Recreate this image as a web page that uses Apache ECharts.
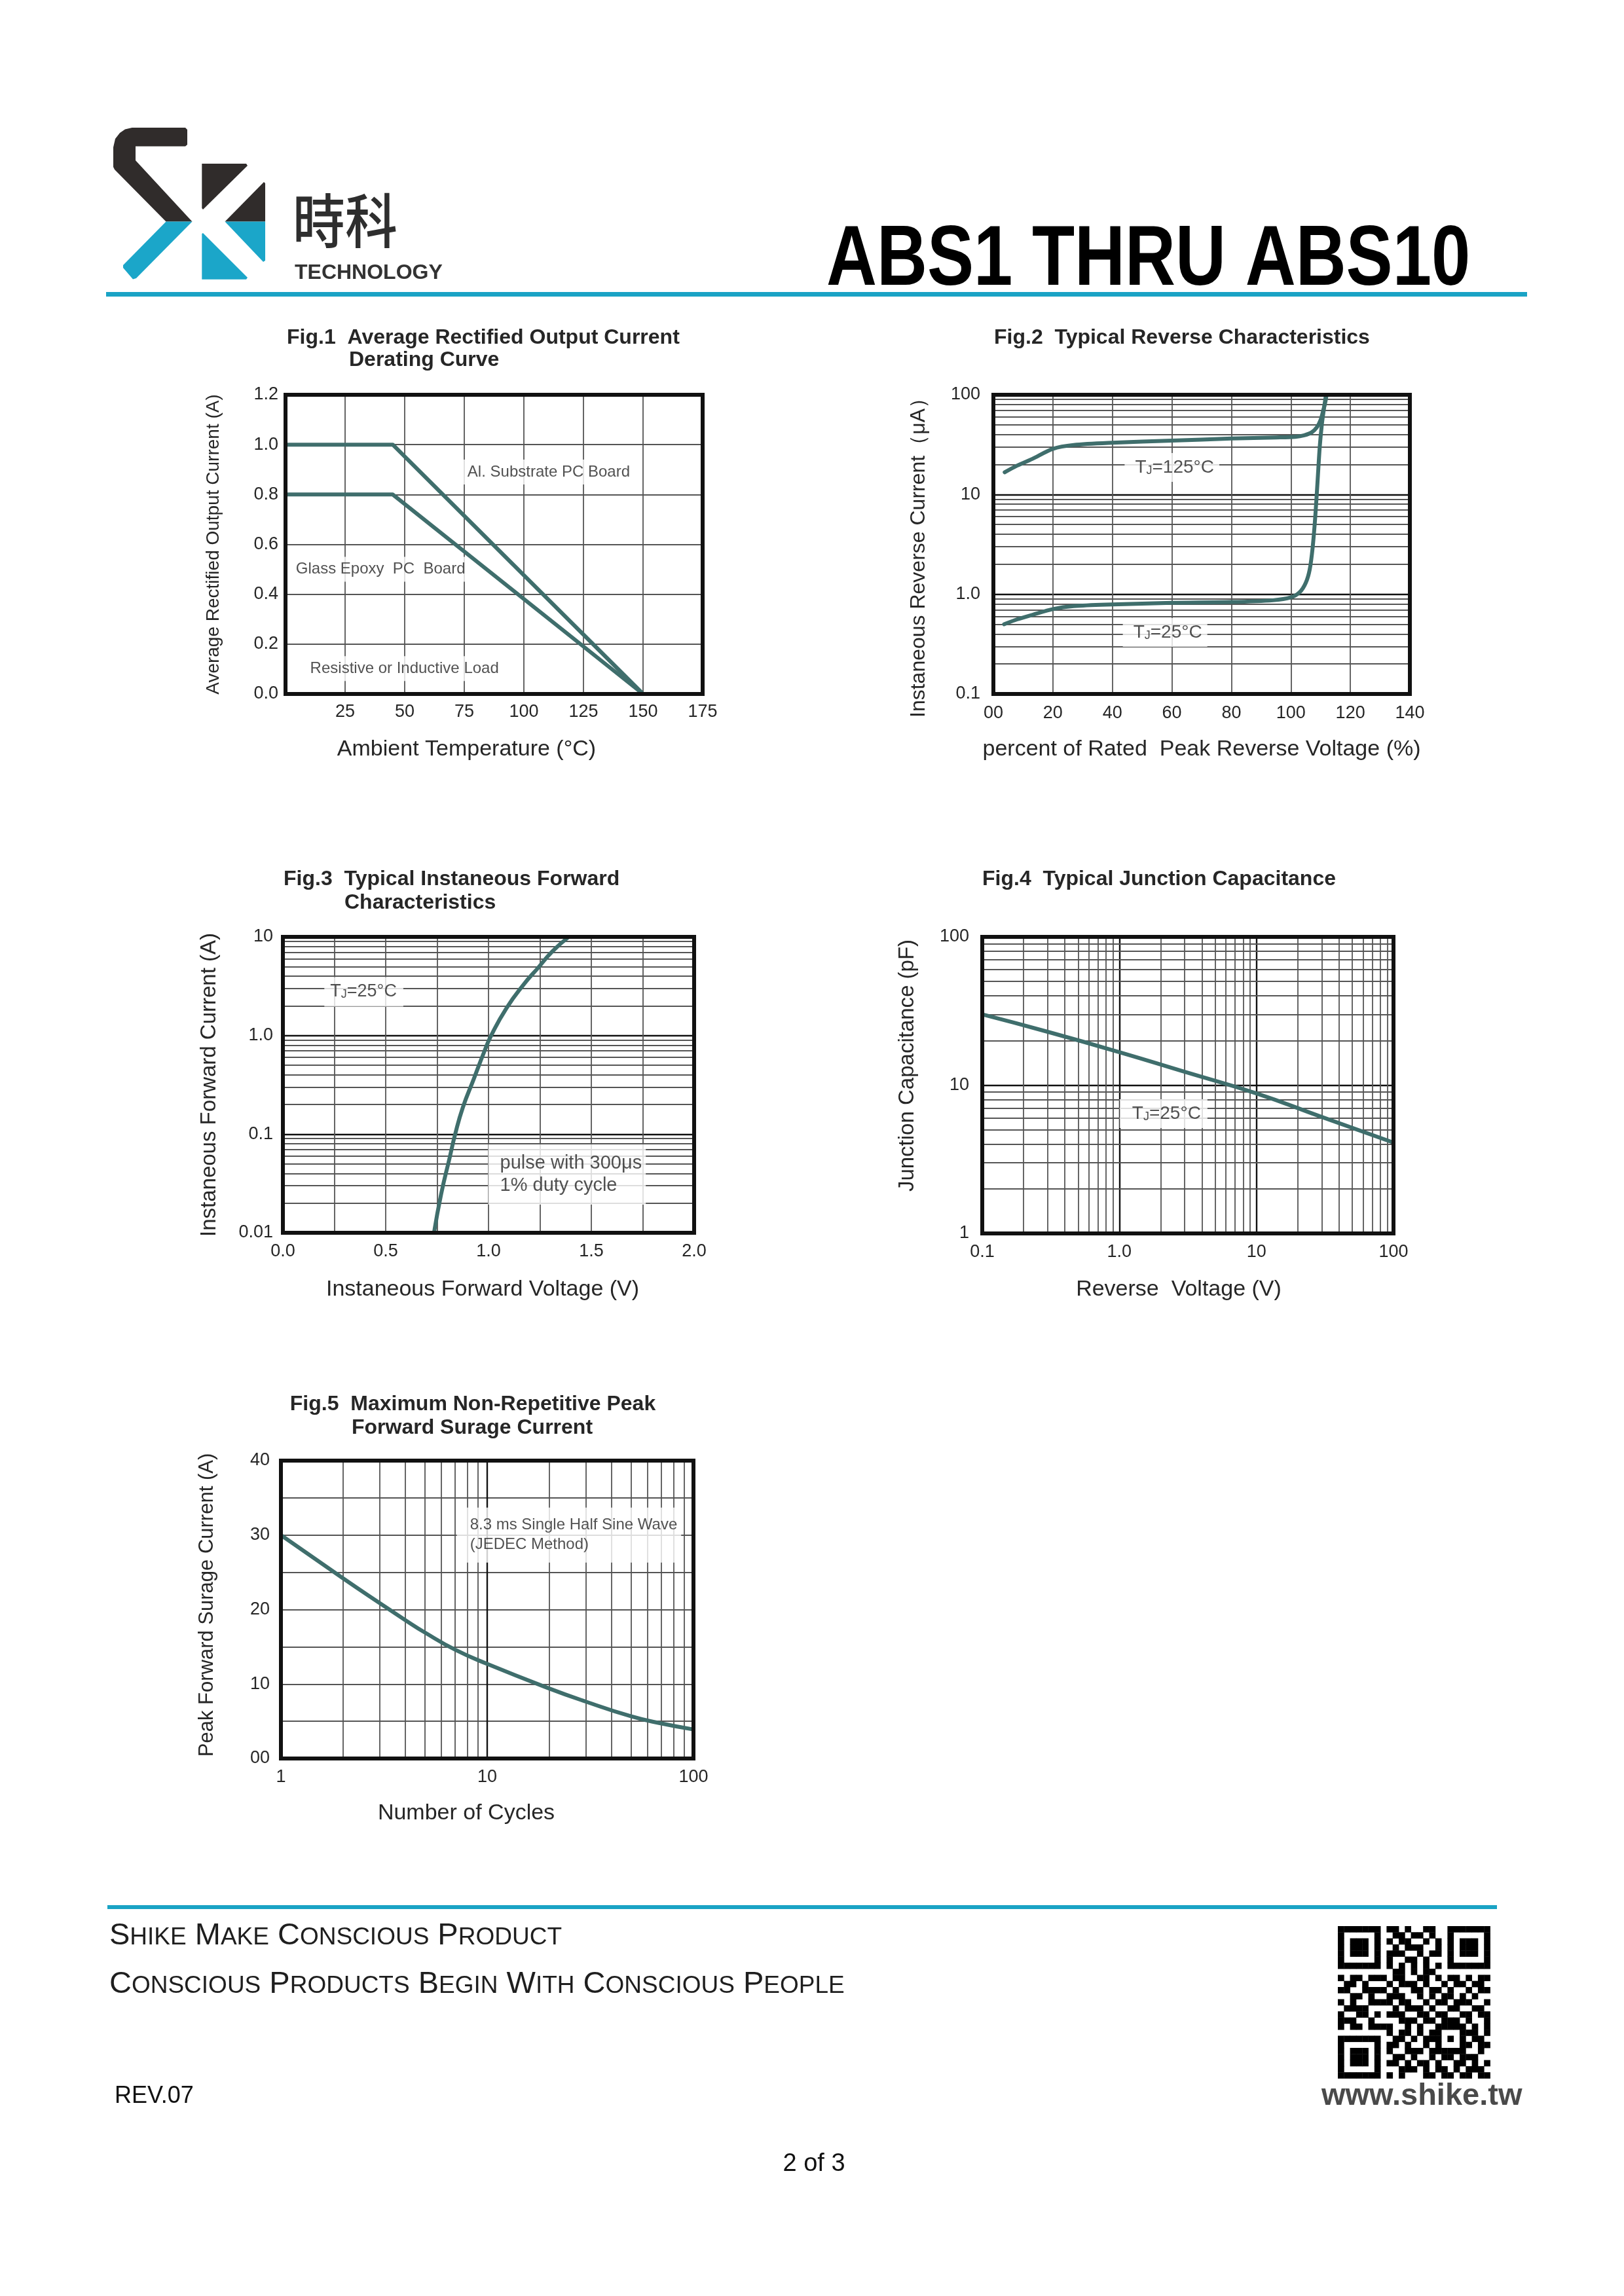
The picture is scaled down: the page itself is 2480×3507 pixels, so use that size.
<!DOCTYPE html>
<html><head><meta charset="utf-8">
<script src="https://cdn.jsdelivr.net/npm/echarts@6/dist/echarts.min.js"></script>
<style>html,body{margin:0;padding:0;background:#fff}#c{width:2480px;height:3507px}</style>
</head><body><div id="c"></div>
<script>
// ================= DATA =================
// Fig.1 derating curve
const fig1Temp = [0, 45, 150];
const fig1AlSubstrate = [1.0, 1.0, 0.0];
const fig1GlassEpoxy = [0.8, 0.8, 0.0];
const fig1XLabels = ['25', '50', '75', '100', '125', '150', '175'];
const fig1YLabels = ['0.0', '0.2', '0.4', '0.6', '0.8', '1.0', '1.2'];
const fig1NoteText = ['Al. Substrate PC Board', 'Glass Epoxy  PC  Board', 'Resistive or Inductive Load'];
const fig1NoteX = [74, 2, 8];
const fig1NoteY = [0.89, 0.50, 0.102];

// Fig.2 reverse characteristics
const fig2Pct125 = [3.8, 8, 13, 20, 27, 40, 60, 80, 95, 101.5, 104.5, 107, 108.8, 110, 110.9, 111.6, 112];
const fig2Cur125 = [16.7, 19.5, 22.7, 28.7, 31.4, 33.1, 34.7, 36.4, 37.3, 37.9, 39.3, 42, 47.5, 56, 70, 85, 100];
const fig2Pct25 = [3.6, 8, 13, 20, 27, 40, 60, 80, 94, 100, 103, 105, 106.3, 107.3, 108.2, 109, 109.7, 110.4, 111.1, 111.8];
const fig2Cur25 = [0.5, 0.56, 0.62, 0.71, 0.76, 0.79, 0.82, 0.835, 0.87, 0.93, 1.05, 1.3, 1.75, 2.9, 6, 14, 30, 50, 72, 100];
const fig2XLabels = ['00', '20', '40', '60', '80', '100', '120', '140'];
const fig2YLabels = ['0.1', '1.0', '10', '100'];
const fig2NoteText = ['T{s|J}=125°C', 'T{s|J}=25°C'];
const fig2NoteX = [44, 43.4];
const fig2NoteY = [18.7, 0.414];

// Fig.3 forward characteristics
const fig3Volt = [0.735, 0.769, 0.811, 0.838, 0.875, 0.928, 0.981, 1.013, 1.087, 1.172, 1.241, 1.31, 1.39];
const fig3Amp = [0.01, 0.0243, 0.0577, 0.1, 0.186, 0.361, 0.70, 1.0, 1.89, 3.31, 4.85, 7.1, 10];
const fig3XLabels = {0: '0.0', 0.5: '0.5', 1: '1.0', 1.5: '1.5', 2: '2.0'};
const fig3YLabels = ['0.01', '0.1', '1.0', '10'];
const fig3NoteText = ['T{s|J}=25°C', 'pulse with 300μs\n1% duty cycle'];
const fig3NoteX = [0.2, 0.997];
const fig3NoteY = [2.77, 0.039];

// Fig.4 junction capacitance
const fig4Volt = [0.1, 0.3, 1, 3, 10, 30, 100];
const fig4Cap = [30, 22.9, 16.7, 12.3, 8.8, 6.1, 4.1];
const fig4XLabels = ['0.1', '1.0', '10', '100'];
const fig4YLabels = ['1', '10', '100'];
const fig4NoteText = ['T{s|J}=25°C'];
const fig4NoteX = [1.0];
const fig4NoteY = [6.43];

// Fig.5 surge current
const fig5Cycles = [1, 2, 3, 4, 5, 7, 10, 20, 30, 50, 70, 100];
const fig5Amp = [30, 24.2, 20.9, 18.6, 16.9, 14.6, 12.7, 9.4, 7.65, 5.65, 4.7, 3.9];
const fig5XLabels = ['1', '10', '100'];
const fig5YLabels = {0: '00', 10: '10', 20: '20', 30: '30', 40: '40'};
const fig5NoteText = ['8.3 ms Single Half Sine Wave\n(JEDEC Method)'];
const fig5NoteX = [7.1];
const fig5NoteY = [30.0];

const logMinorSteps = [2, 3, 4, 5, 6, 7, 8, 9];

// ================= STYLE =================
const FONT = "'Liberation Sans', Arial, Helvetica, sans-serif";
const CJK = "'Noto Sans CJK TC', 'Noto Sans CJK SC', sans-serif";
const TXT = '#262626';
const CURVE = '#3f6e6c';
const MINOR = '#555555';
const MAJOR = '#111111';
const GW = 1.8;
const CYAN = '#1ba6c9';
const DARK = '#302c2b';

const grids = [
  {left: 436, top: 603, width: 637, height: 457},
  {left: 1517, top: 603, width: 636, height: 457},
  {left: 432, top: 1431, width: 628, height: 452},
  {left: 1500, top: 1431, width: 628, height: 453},
  {left: 429, top: 2231, width: 630, height: 455}
];

function pair(xs, ys) { return xs.map((x, i) => [x, ys[i]]); }
function decIdx(v) { return Math.round(Math.log10(v)); }
function minorValues(decades) {
  const out = [];
  decades.forEach(d => logMinorSteps.forEach(m => out.push(m * d)));
  return out;
}

function mkAxis(gi, c) {
  const a = {
    gridIndex: gi, type: c.type, min: c.min, max: c.max,
    name: c.name, nameLocation: 'middle', nameGap: c.nameGap,
    nameTextStyle: {color: TXT, fontFamily: FONT, fontSize: c.nameSize, padding: c.namePad || 0},
    axisLine: {show: false}, axisTick: {show: false},
    axisLabel: {color: TXT, fontFamily: FONT, fontSize: 27, margin: c.margin, formatter: c.fmt,
      showMinLabel: true, showMaxLabel: true},
    splitLine: {show: true, lineStyle: {color: c.splitColor || MINOR, width: c.splitWidth || GW}},
    minorTick: {show: false}, minorSplitLine: {show: false}
  };
  if (c.interval !== undefined) a.interval = c.interval;
  if (c.type === 'log') a.logBase = 10;
  return a;
}

function minorSeries(gi, xVals, yVals) {
  const data = [];
  xVals.forEach(v => data.push({xAxis: v}));
  yVals.forEach(v => data.push({yAxis: v}));
  return {
    type: 'line', xAxisIndex: gi, yAxisIndex: gi, data: [], silent: true, z: 1,
    markLine: {silent: true, z: 1, symbol: ['none', 'none'], animation: false, label: {show: false},
      lineStyle: {color: MINOR, width: GW, type: 'solid'}, emphasis: {disabled: true}, data}
  };
}

function curve(gi, data, smooth) {
  return {
    type: 'line', xAxisIndex: gi, yAxisIndex: gi, data, symbol: 'none', showSymbol: false,
    smooth: smooth || false, silent: true, z: 5,
    lineStyle: {color: CURVE, width: 6, cap: 'round', join: 'round'}
  };
}

function notes(gi, texts, xs, ys, fontSize, padding, lineHeight) {
  const label = {
    show: true, position: 'right', distance: 0, formatter: p => p.name,
    color: TXT, fontFamily: FONT, fontSize, backgroundColor: '#ffffff', padding, align: 'left',
    rich: {s: {fontSize: Math.round(fontSize * 0.66), fontFamily: FONT, color: TXT, verticalAlign: 'bottom'}}
  };
  if (lineHeight) label.lineHeight = lineHeight;
  return {
    type: 'scatter', xAxisIndex: gi, yAxisIndex: gi, z: 3, silent: true,
    symbol: 'rect', symbolSize: 1, itemStyle: {color: 'rgba(0,0,0,0)'}, label,
    data: texts.map((t, i) => ({name: t, value: [xs[i], ys[i]]}))
  };
}

// ================= AXES =================
const XN = 34;
const xAxes = [
  mkAxis(0, {type: 'value', min: 0, max: 175, interval: 25, name: 'Ambient Temperature (°C)', nameGap: 68, nameSize: XN,
    namePad: [0, 84, 0, 0], margin: 14, fmt: v => (fig1XLabels.indexOf(String(v)) >= 0 ? String(v) : '')}),
  mkAxis(1, {type: 'value', min: 0, max: 140, interval: 20, name: 'percent of Rated  Peak Reverse Voltage (%)', nameGap: 68,
    nameSize: XN, margin: 16, fmt: v => fig2XLabels[Math.round(v / 20)]}),
  mkAxis(2, {type: 'value', min: 0, max: 2, interval: 0.25, name: 'Instaneous Forward Voltage (V)', nameGap: 70, nameSize: XN,
    namePad: [0, 18, 0, 0], margin: 15, fmt: v => (fig3XLabels[v] !== undefined ? fig3XLabels[v] : '')}),
  mkAxis(3, {type: 'log', min: 0.1, max: 100, name: 'Reverse  Voltage (V)', nameGap: 69, nameSize: XN,
    namePad: [0, 28, 0, 0], margin: 15, splitColor: MAJOR, splitWidth: 2.4, fmt: v => fig4XLabels[decIdx(v) + 1]}),
  mkAxis(4, {type: 'log', min: 1, max: 100, name: 'Number of Cycles', nameGap: 67, nameSize: XN,
    namePad: [0, 64, 0, 0], margin: 15, splitColor: MAJOR, splitWidth: 2.4, fmt: v => fig5XLabels[decIdx(v)]})
];
const yAxes = [
  mkAxis(0, {type: 'value', min: 0, max: 1.2, interval: 0.2, name: 'Average Rectified Output Current (A)', nameGap: 96,
    nameSize: 28, margin: 11, fmt: v => fig1YLabels[Math.round(v / 0.2)]}),
  mkAxis(1, {type: 'log', min: 0.1, max: 100, name: 'Instaneous Reverse Current（μA）', nameGap: 98, nameSize: 32,
    namePad: [0, 25, 0, 0], margin: 20, splitColor: MAJOR, splitWidth: 2.4, fmt: v => fig2YLabels[decIdx(v) + 1]}),
  mkAxis(2, {type: 'log', min: 0.01, max: 10, name: 'Instaneous Forward Current (A)', nameGap: 96, nameSize: 33,
    margin: 15, splitColor: MAJOR, splitWidth: 2.4, fmt: v => fig3YLabels[decIdx(v) + 2]}),
  mkAxis(3, {type: 'log', min: 1, max: 100, name: 'Junction Capacitance (pF)', nameGap: 98, nameSize: 33,
    namePad: [0, 0, 0, 60], margin: 20, splitColor: MAJOR, splitWidth: 2.4, fmt: v => fig4YLabels[decIdx(v)]}),
  mkAxis(4, {type: 'value', min: 0, max: 40, interval: 5, name: 'Peak Forward Surage Current (A)', nameGap: 97, nameSize: 31,
    namePad: [0, 0, 0, 14], margin: 17, fmt: v => (fig5YLabels[v] !== undefined ? fig5YLabels[v] : '')})
];

// ================= SERIES =================
const series = [
  minorSeries(1, [], minorValues([0.1, 1, 10])),
  minorSeries(2, [], minorValues([0.01, 0.1, 1])),
  minorSeries(3, minorValues([0.1, 1, 10]), minorValues([1, 10])),
  minorSeries(4, minorValues([1, 10]), []),
  notes(0, fig1NoteText, fig1NoteX, fig1NoteY, 24, [7, 8]),
  notes(1, fig2NoteText, fig2NoteX, fig2NoteY, 28, [8, 8, 8, 16]),
  notes(2, fig3NoteText.slice(0, 1), fig3NoteX.slice(0, 1), fig3NoteY.slice(0, 1), 27, [9, 10, 9, 9]),
  notes(2, fig3NoteText.slice(1), fig3NoteX.slice(1), fig3NoteY.slice(1), 29, [12, 6, 12, 18], 34),
  notes(3, fig4NoteText, fig4NoteX, fig4NoteY, 28, [8, 10, 8, 19]),
  notes(4, fig5NoteText, fig5NoteX, fig5NoteY, 24, [12, 6, 12, 20], 30),
  curve(0, pair(fig1Temp, fig1AlSubstrate)),
  curve(0, pair(fig1Temp, fig1GlassEpoxy)),
  curve(1, pair(fig2Pct125, fig2Cur125), 0.3),
  curve(1, pair(fig2Pct25, fig2Cur25), 0.3),
  curve(2, pair(fig3Volt, fig3Amp), 0.5),
  curve(3, pair(fig4Volt, fig4Cap), 0.5),
  curve(4, pair(fig5Cycles, fig5Amp), 0.5)
];

// ================= GRAPHIC (page furniture) =================
const graphic = [];
function txt(text, x, y, size, opts) {
  opts = opts || {};
  const el = {
    type: 'text', x, y, z: 50, silent: true,
    style: {text, x: 0, y: 0, fill: opts.color || TXT, fontSize: size, fontFamily: opts.family || FONT,
      fontWeight: opts.weight || 'normal', align: opts.align || 'left', verticalAlign: 'middle'}
  };
  if (opts.scaleX) el.scaleX = opts.scaleX;
  if (opts.scaleY) el.scaleY = opts.scaleY;
  if (opts.rich) el.style.rich = opts.rich;
  graphic.push(el);
}

// borders of the plot boxes
grids.forEach(g => graphic.push({type: 'rect', z: 100, silent: true,
  shape: {x: g.left, y: g.top, width: g.width, height: g.height},
  style: {fill: 'none', stroke: '#111', lineWidth: 6}}));

// figure titles
const TS = 32;
txt('Fig.1  Average Rectified Output Current', 438, 516, TS, {weight: 'bold'});
txt('Derating Curve', 533, 550, TS, {weight: 'bold'});
txt('Fig.2  Typical Reverse Characteristics', 1518, 516, TS, {weight: 'bold'});
txt('Fig.3  Typical Instaneous Forward', 433, 1343, TS, {weight: 'bold'});
txt('Characteristics', 526, 1379, TS, {weight: 'bold'});
txt('Fig.4  Typical Junction Capacitance', 1500, 1343, TS, {weight: 'bold'});
txt('Fig.5  Maximum Non-Repetitive Peak', 722, 2145, TS, {weight: 'bold', align: 'center'});
txt('Forward Surage Current', 721, 2181, TS, {weight: 'bold', align: 'center'});

// header
graphic.push({type: 'rect', z: 10, silent: true, shape: {x: 162, y: 446, width: 2170, height: 7}, style: {fill: '#1aa3c5'}});
txt('ABS1 THRU ABS10', 1262, 399, 130, {weight: 'bold', color: '#000', scaleX: 0.82});
txt('時科', 447, 337, 80, {family: CJK, color: '#2e2e2e', weight: 500, scaleY: 1.12});
txt('TECHNOLOGY', 450, 417, 32, {weight: 'bold', color: '#333'});

// logo
const logoDark = [
  [[201.7, 195], [283, 195], [286, 198], [286, 221], [283, 223.5], [207, 223.5], [207, 245], [293.5, 338.5], [253.5, 338.5],
   [175, 259], [173, 255], [173, 225], [176, 212], [183, 203], [191, 197.5]],
  [[308.3, 250], [376, 250], [378, 253], [310, 320], [308.3, 318]],
  [[403, 278], [405, 280], [405, 338.5], [343.5, 338.5]]
];
const logoCyan = [
  [[253.5, 338.5], [293.5, 338.5], [208, 425], [203, 426.5], [188, 409], [188, 405]],
  [[343.5, 338.5], [405, 338.5], [405, 398], [402, 400]],
  [[308.3, 357], [310, 356], [378, 424], [376, 426.7], [308.3, 426.7]]
];
logoDark.forEach(p => graphic.push({type: 'polygon', z: 10, silent: true, shape: {points: p}, style: {fill: DARK}}));
logoCyan.forEach(p => graphic.push({type: 'polygon', z: 10, silent: true, shape: {points: p}, style: {fill: CYAN}}));

// footer
graphic.push({type: 'rect', z: 10, silent: true, shape: {x: 164, y: 2910, width: 2122, height: 6}, style: {fill: '#1aa3c5'}});
function smallCaps(s) {
  return s.split(' ').map(w => '{b|' + w[0] + '}{s|' + w.slice(1).toUpperCase() + '}').join('{b| }');
}
const scRich = {
  b: {fontSize: 47, fontFamily: FONT, fill: '#1e1e1e', verticalAlign: 'bottom'},
  s: {fontSize: 37, fontFamily: FONT, fill: '#1e1e1e', verticalAlign: 'bottom', padding: [0, 0, 2, 0]}
};
txt(smallCaps('Shike Make Conscious Product'), 167, 2957, 47, {rich: scRich, color: '#1e1e1e'});
txt(smallCaps('Conscious Products Begin With Conscious People'), 167, 3031, 47, {rich: scRich, color: '#1e1e1e'});
txt('REV.07', 175, 3202, 36, {color: '#111'});
txt('2 of 3', 1243, 3306, 38, {color: '#111', align: 'center'});
txt('www.shike.tw', 2018, 3202, 47, {weight: 'bold', color: '#4a4a4a'});

// QR code (decorative)
const QR_ROWS = [
  '1111111011010011001111111',
  '1000001001101101001000001',
  '1011101010110010101011101',
  '1011101001011100101011101',
  '1011101011100101101011101',
  '1000001010011010001000001',
  '1111111010101010101111111',
  '0000000001101011000000000',
  '1011011101100110101101011',
  '0110100010111010010110110',
  '1100111101001101101001011',
  '0011010011100101011010100',
  '1010011110110010110111001',
  '0111100001011101001100110',
  '1001101011100110110011011',
  '1110010000111011011101001',
  '1011011110010100111110101',
  '0000000010110101100011101',
  '1111111001101011101010110',
  '1000001011010010100011011',
  '1011101010011101111110010',
  '1011101001101001011011100',
  '1011101011010110100110101',
  '1000001000111010110101110',
  '1111111010100011011011011'
];
const QX = 2043, QY = 2942, QM = 9.3;
QR_ROWS.forEach((row, r) => {
  for (let c = 0; c < row.length; c++) {
    if (row[c] === '1') graphic.push({type: 'rect', z: 10, silent: true,
      shape: {x: QX + c * QM, y: QY + r * QM, width: QM + 0.4, height: QM + 0.4}, style: {fill: '#000'}});
  }
});

// ================= CHART =================
const chart = echarts.init(document.getElementById('c'), null, {renderer: 'canvas'});
chart.setOption({
  backgroundColor: '#ffffff',
  animation: false,
  grid: grids.map(g => Object.assign({containLabel: false, show: false}, g)),
  xAxis: xAxes,
  yAxis: yAxes,
  series,
  graphic
});
</script>
</body></html>
